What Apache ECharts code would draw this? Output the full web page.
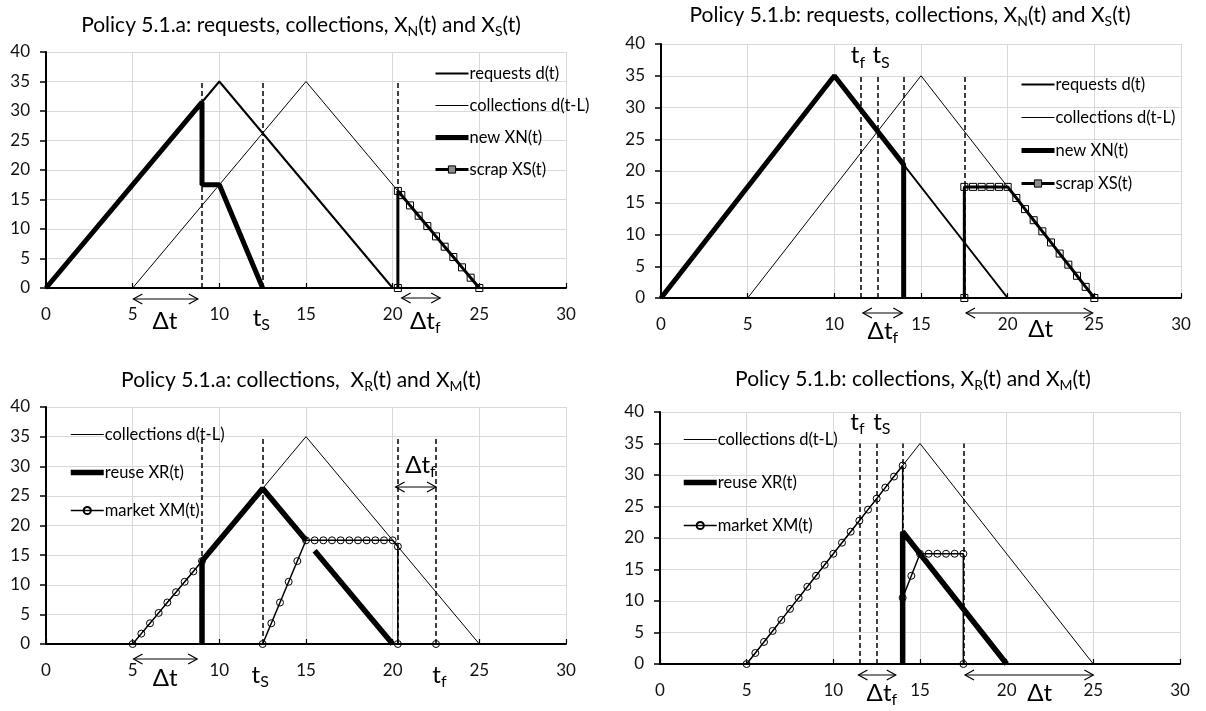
<!DOCTYPE html>
<html>
<head>
<meta charset="utf-8">
<script src="https://cdn.jsdelivr.net/npm/echarts@6/dist/echarts.min.js"></script>
<style>
html,body{margin:0;padding:0;background:#fff;}
#chart{width:1206px;height:711px;}
</style>
</head>
<body>
<div id="chart"></div>
<script>
// ---------------- data ----------------
const xTicks = [0, 5, 10, 15, 20, 25, 30];
const yTicks = [0, 5, 10, 15, 20, 25, 30, 35, 40];

const requests    = [[0, 0], [10, 35], [20, 0]];
const collections = [[5, 0], [15, 35], [25, 0]];

// Policy 5.1.a : requests, collections, XN, XS
const newXN_a   = [[0, 0], [9, 31.5], [9, 17.5], [10, 17.5], [12.5, 0]];
const scrapXS_a = [[20.3, 0], [20.3, 16.45], [20.5, 15.75], [21, 14], [21.5, 12.25], [22, 10.5], [22.5, 8.75],
                   [23, 7], [23.5, 5.25], [24, 3.5], [24.5, 1.75], [25, 0]];
const eventsTopA = [9, 12.5, 20.3];

// Policy 5.1.b : requests, collections, XN, XS
const newXN_b   = [[0, 0], [10, 35], [14, 21], [14, 0]];
const scrapXS_b = [[17.5, 0], [17.5, 17.5], [18, 17.5], [18.5, 17.5], [19, 17.5], [19.5, 17.5], [20, 17.5],
                   [20.5, 15.75], [21, 14], [21.5, 12.25], [22, 10.5], [22.5, 8.75], [23, 7], [23.5, 5.25],
                   [24, 3.5], [24.5, 1.75], [25, 0]];
const eventsTopB = [11.5, 12.5, 14, 17.5];

// Policy 5.1.a : collections, XR, XM
const reuseXR_a1  = [[9, 0], [9, 14], [12.5, 26.25], [15, 17.5]];
const reuseXR_a2  = [[15.5, 15.75], [20, 0]];
const marketXM_a  = [[5, 0], [5.5, 1.75], [6, 3.5], [6.5, 5.25], [7, 7], [7.5, 8.75], [8, 10.5], [8.5, 12.25],
                     [9, 14], [9, 0], [12.5, 0], [13, 3.5], [13.5, 7], [14, 10.5], [14.5, 14], [15, 17.5],
                     [15.5, 17.5], [16, 17.5], [16.5, 17.5], [17, 17.5], [17.5, 17.5], [18, 17.5], [18.5, 17.5],
                     [19, 17.5], [19.5, 17.5], [20, 17.5], [20.3, 16.45], [20.3, 0], [22.5, 0]];
const marketXM_aNoMarker = [9]; // index of the point drawn without a circle
const eventsBotA  = [9, 12.5, 20.3, 22.5];

// Policy 5.1.b : collections, XR, XM
const reuseXR_b   = [[14, 0], [14, 21], [20, 0]];
const marketXM_b  = [[5, 0], [5.5, 1.75], [6, 3.5], [6.5, 5.25], [7, 7], [7.5, 8.75], [8, 10.5], [8.5, 12.25],
                     [9, 14], [9.5, 15.75], [10, 17.5], [10.5, 19.25], [11, 21], [11.5, 22.75], [12, 24.5],
                     [12.5, 26.25], [13, 28], [13.5, 29.75], [14, 31.5], [14, 10.5], [14.5, 14], [15, 17.5],
                     [15.5, 17.5], [16, 17.5], [16.5, 17.5], [17, 17.5], [17.5, 17.5], [17.5, 0]];
const eventsBotB  = [11.5, 12.5, 14, 17.5];
const eventTop = 35;

const titles = [
  'Policy 5.1.a: requests, collections, X{s|N}(t) and X{s|S}(t)',
  'Policy 5.1.b: requests, collections, X{s|N}(t) and X{s|S}(t)',
  'Policy 5.1.a: collections,  X{s|R}(t) and X{s|M}(t)',
  'Policy 5.1.b: collections, X{s|R}(t) and X{s|M}(t)'
];
const names = {
  req: 'requests d(t)', col: 'collections d(t-L)', xn: 'new XN(t)', xs: 'scrap XS(t)',
  xr: 'reuse XR(t)', xm: 'market XM(t)'
};

// ---------------- layout / style ----------------
const FONT = 'Lato, "Open Sans", sans-serif';
const grids = [
  {left: 46,  top: 52,  width: 520, height: 236},
  {left: 661, top: 44,  width: 520, height: 254},
  {left: 46,  top: 407, width: 520, height: 237},
  {left: 660, top: 412, width: 520, height: 252}
];
const W = {req: 2, col: 1, xn: 5, xs: 3, xr: 5.5, xm: 1.5};

const chart = echarts.init(document.getElementById('chart'), null, {renderer: 'canvas'});

function axisX(i) {
  return {
    type: 'value', gridIndex: i, min: xTicks[0], max: xTicks[xTicks.length - 1], interval: xTicks[1] - xTicks[0],
    axisLine: {show: true, onZero: true, lineStyle: {color: '#000', width: 2}},
    axisTick: {show: true, inside: true, length: 5, lineStyle: {color: '#000', width: 1.2}},
    axisLabel: {color: '#111', fontFamily: FONT, fontSize: 17, margin: 18},
    splitLine: {show: true, lineStyle: {color: '#d9d9d9', width: 1}}
  };
}
function axisY(i) {
  return {
    type: 'value', gridIndex: i, min: yTicks[0], max: yTicks[yTicks.length - 1], interval: yTicks[1] - yTicks[0],
    axisLine: {show: true, lineStyle: {color: '#000', width: 2}},
    axisTick: {show: true, inside: false, length: 6, lineStyle: {color: '#000', width: 1.5}},
    axisLabel: {color: '#111', fontFamily: FONT, fontSize: 17, margin: 16},
    splitLine: {show: true, lineStyle: {color: '#d9d9d9', width: 1}}
  };
}

const hollow = {color: 'rgba(255,255,255,0)', borderColor: '#000', borderWidth: 1};
function line(name, data, g, width, extra) {
  return Object.assign({
    type: 'line', name, data, xAxisIndex: g, yAxisIndex: g,
    symbol: 'none', showSymbol: false, clip: false, silent: true,
    lineStyle: {color: '#000', width}, itemStyle: {color: '#000'},
    emphasis: {disabled: true}
  }, extra || {});
}
function withMarkers(s, symbol, size) {
  s.symbol = symbol; s.showSymbol = true; s.symbolSize = size;
  s.itemStyle = Object.assign({}, hollow);
  return s;
}
function events(xs) {
  return {
    silent: true, symbol: ['none', 'none'], label: {show: false}, animation: false,
    lineStyle: {type: [5, 3], color: '#000', width: 1.5},
    data: xs.map(x => [{coord: [x, 0]}, {coord: [x, eventTop]}])
  };
}

const xmA = marketXM_a.map((p, i) => marketXM_aNoMarker.indexOf(i) >= 0 ? {value: p, symbol: 'none'} : p);

const series = [
  // grid 0
  line(names.col, collections, 0, W.col, {markLine: events(eventsTopA)}),
  line(names.req, requests, 0, W.req),
  line(names.xn, newXN_a, 0, W.xn),
  withMarkers(line(names.xs, scrapXS_a, 0, W.xs), 'rect', 7),
  // grid 1
  line(names.col, collections, 1, W.col, {markLine: events(eventsTopB)}),
  line(names.req, requests, 1, W.req),
  line(names.xn, newXN_b, 1, W.xn),
  withMarkers(line(names.xs, scrapXS_b, 1, W.xs), 'rect', 7),
  // grid 2
  line(names.col, collections, 2, W.col, {markLine: events(eventsBotA)}),
  line(names.xr, reuseXR_a1, 2, W.xr),
  line(names.xr, reuseXR_a2, 2, W.xr),
  withMarkers(line(names.xm, xmA, 2, W.xm), 'circle', 7),
  // grid 3
  line(names.col, collections, 3, W.col, {markLine: events(eventsBotB)}),
  line(names.xr, reuseXR_b, 3, W.xr),
  withMarkers(line(names.xm, marketXM_b, 3, W.xm), 'circle', 7)
];

function item(key, marker) {
  const it = {name: names[key], lineStyle: {width: W[key], color: '#000'}};
  if (!marker) it.itemStyle = {opacity: 0, color: 'rgba(0,0,0,0)', borderWidth: 0};
  else if (marker === 'grey') it.itemStyle = {color: '#8c8c8c', borderColor: '#000', borderWidth: 1};
  return it;
}
function legend(items, left, top, gap) {
  return {
    orient: 'vertical', left, top, padding: 0, itemGap: gap, itemWidth: 33, itemHeight: 9,
    selectedMode: false, data: items,
    textStyle: {fontFamily: FONT, fontSize: 16.5, color: '#000', lineHeight: 16, padding: [0, 0, 0, -4]}
  };
}

const option = {
  animation: false,
  backgroundColor: '#fff',
  grid: grids.map(g => Object.assign({containLabel: false}, g)),
  xAxis: grids.map((g, i) => axisX(i)),
  yAxis: grids.map((g, i) => axisY(i)),
  legend: [
    legend([item('req'), item('col'), item('xn'), item('xs', 'grey')], 433, 65, 15),
    legend([item('req'), item('col'), item('xn'), item('xs', 'grey')], 1019, 76, 16),
    legend([item('col'), item('xr'), item('xm', true)], 68, 426, 21),
    legend([item('col'), item('xr'), item('xm', true)], 681, 431, 26)
  ],
  series
};
chart.setOption(option);

// ---------------- annotations (positions in data units, converted by the axes) ----------------
const titlePos = [[301, 25], [910, 15], [301, 380], [913, 379]];
const arrows = [
  {g: 0, x1: 5.04, x2: 8.76, dy: 11},
  {g: 0, x1: 20.52, x2: 22.74, dy: 10},
  {g: 1, x1: 11.65, x2: 13.92, dy: 15},
  {g: 1, x1: 17.6, x2: 24.9, dy: 15},
  {g: 2, x1: 5.05, x2: 8.72, dy: 15},
  {g: 2, x1: 20.17, x2: 22.5, y: 26.5},
  {g: 3, x1: 11.45, x2: 13.6, dy: 11},
  {g: 3, x1: 17.6, x2: 25, dy: 11}
];
const labels = [
  {g: 0, x: 6.86, dy: 33, t: 'Δt'},
  {g: 0, x: 12.42, dy: 30, t: 't{s|S}'},
  {g: 0, x: 21.88, dy: 33, t: 'Δt{s|f}'},
  {g: 1, x: 11.36, y: 38.2, t: 't{s|f}'},
  {g: 1, x: 12.7, y: 38.2, t: 't{s|S}'},
  {g: 1, x: 12.8, dy: 33, t: 'Δt{s|f}'},
  {g: 1, x: 21.9, dy: 31, t: 'Δt'},
  {g: 2, x: 6.87, dy: 34, t: 'Δt'},
  {g: 2, x: 12.36, dy: 31, t: 't{s|S}'},
  {g: 2, x: 22.7, dy: 31, t: 't{s|f}'},
  {g: 2, x: 21.6, y: 30.2, t: 'Δt{s|f}'},
  {g: 3, x: 11.39, y: 38.4, t: 't{s|f}'},
  {g: 3, x: 12.8, y: 38.4, t: 't{s|S}'},
  {g: 3, x: 12.8, dy: 29, t: 'Δt{s|f}'},
  {g: 3, x: 21.9, dy: 29, t: 'Δt'}
];

function toPx(g, x, y) { return chart.convertToPixel({gridIndex: g}, [x, y]); }
function richText(x, y, text, size, sub) {
  return {
    type: 'text', x, y, silent: true, z: 100,
    style: {
      text, fill: '#000', fontFamily: FONT, fontSize: size, lineHeight: Math.round(size * 1.25),
      align: 'center', verticalAlign: 'middle', textAlign: 'center', textVerticalAlign: 'middle',
      rich: {s: {fontFamily: FONT, fontSize: sub, lineHeight: Math.round(sub * 0.75), verticalAlign: 'bottom', fill: '#000'}}
    }
  };
}

const graphics = [];
titles.forEach((t, i) => graphics.push(richText(titlePos[i][0], titlePos[i][1], t, 21, 14)));
arrows.forEach(a => {
  const p1 = toPx(a.g, a.x1, a.y !== undefined ? a.y : 0);
  const p2 = toPx(a.g, a.x2, a.y !== undefined ? a.y : 0);
  const yy = a.y !== undefined ? p1[1] : p1[1] + a.dy;
  const h = 9, w = 5;
  const st = {stroke: '#000', lineWidth: 1.2, fill: null};
  graphics.push({type: 'polyline', silent: true, z: 100, shape: {points: [[p1[0], yy], [p2[0], yy]]}, style: st});
  graphics.push({type: 'polyline', silent: true, z: 100, shape: {points: [[p1[0] + h, yy - w], [p1[0], yy], [p1[0] + h, yy + w]]}, style: st});
  graphics.push({type: 'polyline', silent: true, z: 100, shape: {points: [[p2[0] - h, yy - w], [p2[0], yy], [p2[0] - h, yy + w]]}, style: st});
});
labels.forEach(l => {
  const p = toPx(l.g, l.x, l.y !== undefined ? l.y : 0);
  const yy = l.y !== undefined ? p[1] : p[1] + l.dy;
  graphics.push(richText(p[0], yy, l.t, 24, 16));
});
chart.setOption({graphic: graphics});
</script>
</body>
</html>
